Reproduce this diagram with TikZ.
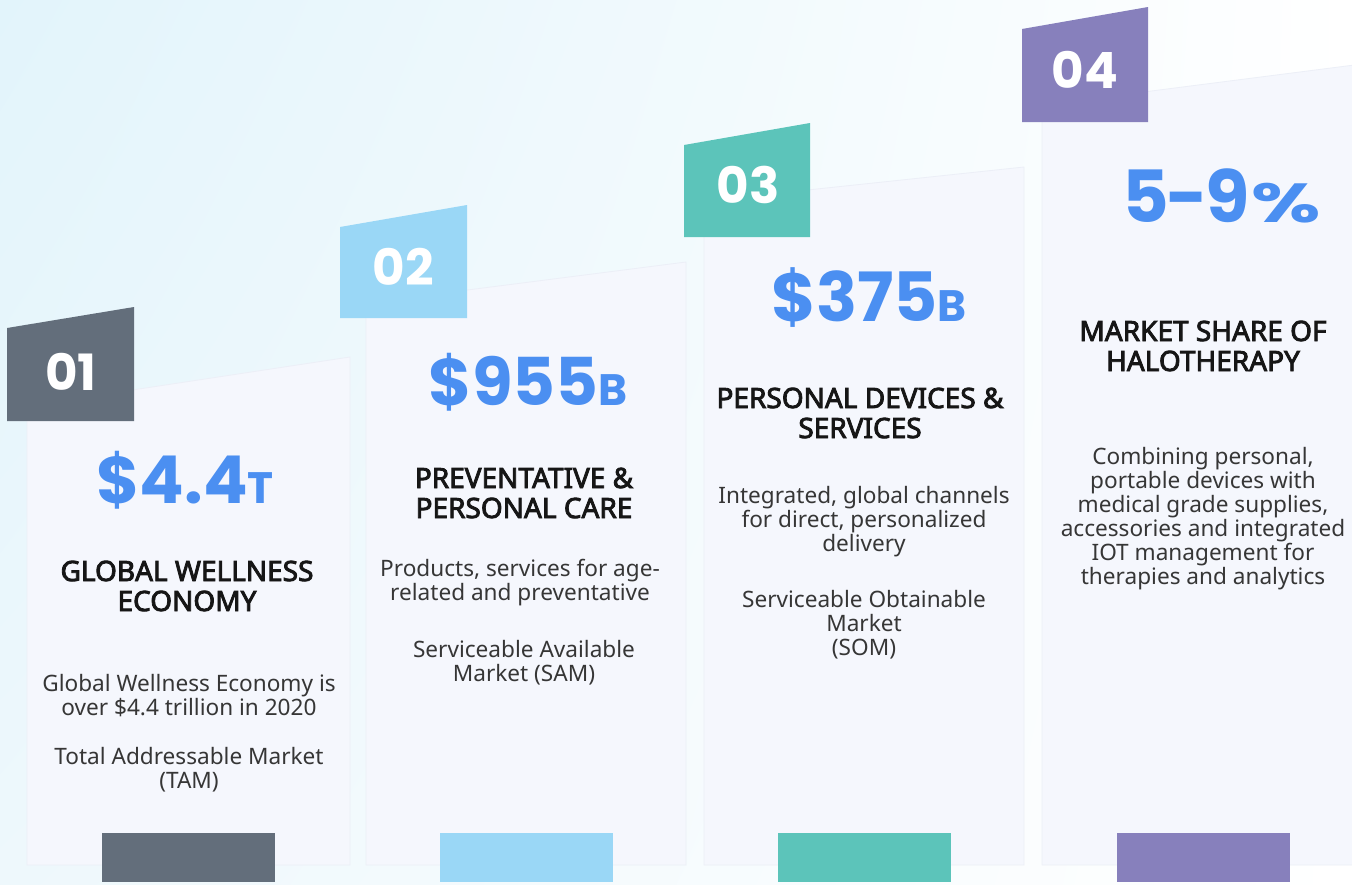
\documentclass[tikz,border=0pt]{standalone}
\usepackage{fontspec}
\usetikzlibrary{shadings}
\setmainfont{Noto Sans}
\newfontfamily\headfont{Noto Sans}[FakeBold=3]
\newfontfamily\popfont{Poppins}
\definecolor{bgcyan}{HTML}{E2F4FB}
\definecolor{bgmid}{HTML}{EEF8FC}
\definecolor{cardfill}{HTML}{F5F7FD}
\definecolor{cardedge}{HTML}{ECEFF7}
\definecolor{tagA}{HTML}{636E7B}
\definecolor{tagB}{HTML}{9AD7F6}
\definecolor{tagC}{HTML}{5CC4BA}
\definecolor{tagD}{HTML}{8780BC}
\definecolor{numblue}{HTML}{4B8FF1}
\definecolor{headcol}{HTML}{161616}
\definecolor{bodycol}{HTML}{363636}
\tikzset{
  card/.style={fill=cardfill, draw=cardedge, line width=0.8pt},
  tagnum/.style={text=white, font=\popfont\bfseries\fontsize{50}{50}\selectfont, inner sep=0pt},
  bignum/.style={text=numblue, font=\popfont\bfseries\fontsize{66}{66}\selectfont, inner sep=0pt},
  headtxt/.style={text=headcol, align=center, font=\headfont\fontsize{28}{30}\selectfont, inner sep=0pt},
  bodytxt/.style={text=bodycol, align=center, font=\fontsize{22.6}{24}\selectfont, inner sep=0pt}
}
\newcommand{\smallunit}[1]{{\fontsize{44}{44}\selectfont #1}}
\begin{document}
\begin{tikzpicture}[x=1pt,y=-1pt]
\useasboundingbox (0,0) rectangle (1352,884);
% background
\shade[upper left=bgcyan, upper right=white, lower left=bgmid, lower right=white] (0,0) rectangle (1352,884);
% cards
\path[card] (27,406) -- (350,357) -- (350,865) -- (27,865) -- cycle;
\path[card] (366,303) -- (686,262) -- (686,865) -- (366,865) -- cycle;
\path[card] (704,201) -- (1024,167) -- (1024,865) -- (704,865) -- cycle;
\path[card] (1042,105) -- (1370,63) -- (1370,865) -- (1042,865) -- cycle;
% tags
\fill[tagA] (7,328) -- (134,307) -- (134,421) -- (7,421) -- cycle;
\fill[tagB] (340,227) -- (467,205) -- (467,318) -- (340,318) -- cycle;
\fill[tagC] (684,145) -- (810,123) -- (810,237) -- (684,237) -- cycle;
\fill[tagD] (1022,29) -- (1148,7) -- (1148,122) -- (1022,122) -- cycle;
\node[tagnum] (t1) at (71,372) {01};
\node[tagnum] (t2) at (403,267) {02};
\node[tagnum] (t3) at (748,185) {03};
\node[tagnum] (t4) at (1085,70) {04};
% bottom bars
\fill[tagA] (102,833) rectangle (275,882);
\fill[tagB] (440,833) rectangle (613,882);
\fill[tagC] (778,833) rectangle (951,882);
\fill[tagD] (1117,833) rectangle (1290,882);
% card 1
\node[bignum] (n1) at (185,480) {\$4.4\smallunit{T}};
\node[headtxt] (h1) at (187,586) {GLOBAL WELLNESS\\ECONOMY};
\node[bodytxt] (b1a) at (189,696) {Global Wellness Economy is\\over \$4.4 trillion in 2020};
\node[bodytxt] (b1b) at (189,770) {Total Addressable Market\\(TAM)};
% card 2
\node[bignum] (n2) at (528,382) {\$955\smallunit{B}};
\node[headtxt] (h2) at (524,493) {PREVENTATIVE \&\\PERSONAL CARE};
\node[bodytxt] (b2a) at (520,583) {Products, services for age-\\related and preventative};
\node[bodytxt] (b2b) at (524,663) {Serviceable Available\\Market (SAM)};
% card 3
\node[bignum, font=\popfont\bfseries\fontsize{68}{68}\selectfont] (n3) at (869,298) {\$375\smallunit{B}};
\node[headtxt] (h3) at (860,413) {PERSONAL DEVICES \&\\SERVICES};
\node[bodytxt] (b3a) at (864,522) {Integrated, global channels\\for direct, personalized\\delivery};
\node[bodytxt] (b3b) at (864,625) {Serviceable Obtainable\\Market\\(SOM)};
% card 4
\node[bignum, font=\popfont\bfseries\fontsize{72}{72}\selectfont] (n4) at (1222,196) {5\kern-3pt-\kern-3pt9\kern2pt\scalebox{1.45}[1]{\fontsize{55}{55}\selectfont\%}};
\node[headtxt] (h4) at (1203,346) {MARKET SHARE OF\\HALOTHERAPY};
\node[bodytxt] (b4) at (1203,519) {Combining personal,\\portable devices with\\medical grade supplies,\\accessories and integrated\\IOT management for\\therapies and analytics};
\end{tikzpicture}
\end{document}
